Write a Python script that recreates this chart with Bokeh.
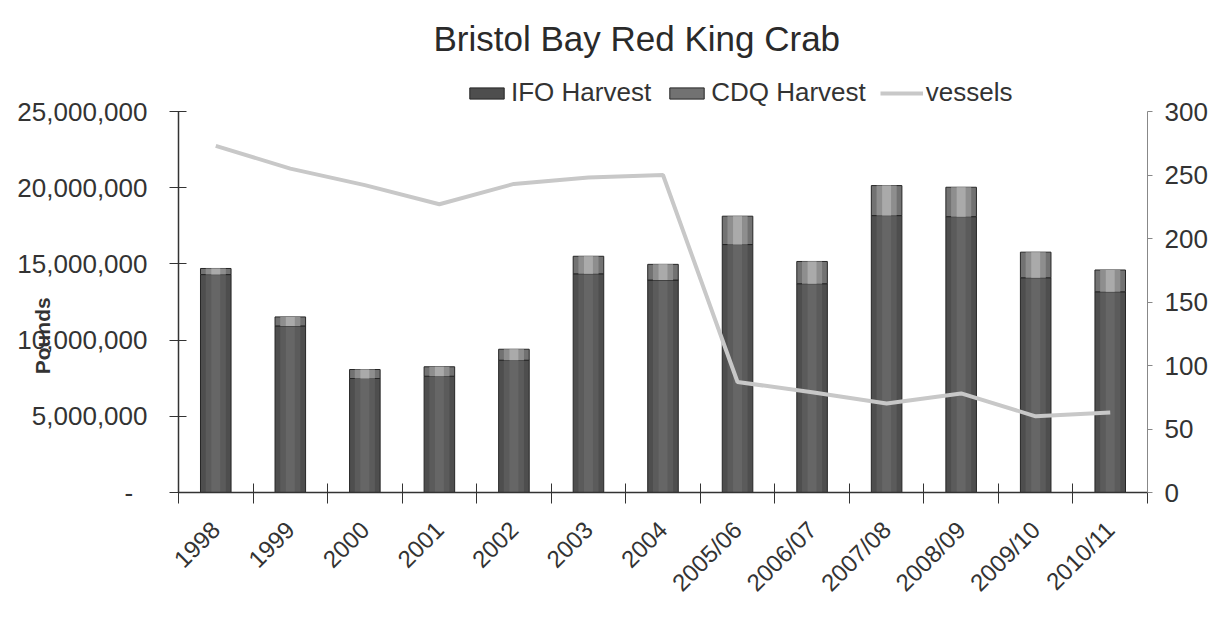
from bokeh.plotting import figure
from bokeh.models import (ColumnDataSource, LinearAxis, Range1d, FixedTicker,
                          NumeralTickFormatter, Legend, LegendItem)
from bokeh.embed import file_html
from bokeh.resources import INLINE
import math

# ---------------- data ----------------
years = ["1998", "1999", "2000", "2001", "2002", "2003", "2004",
         "2005/06", "2006/07", "2007/08", "2008/09", "2009/10", "2010/11"]
ifo_harvest = [14300000, 10930000, 7480000, 7630000, 8680000, 14350000, 13940000,
               16270000, 13700000, 18170000, 18100000, 14090000, 13170000]
cdq_harvest = [400000, 590000, 590000, 620000, 720000, 1150000, 1030000,
               1860000, 1460000, 1970000, 1930000, 1680000, 1430000]
vessels = [273, 255, 242, 227, 243, 248, 250, 87, 79, 70, 78, 60, 63]
pound_ticks = [0, 5000000, 10000000, 15000000, 20000000, 25000000]
vessel_ticks = [0, 50, 100, 150, 200, 250, 300]
POUND_MAX = 25000000
VESSEL_MAX = 300

xs = list(range(len(years)))
total = [a + b for a, b in zip(ifo_harvest, cdq_harvest)]
src = ColumnDataSource(dict(x=xs, ifo=ifo_harvest, cdq=cdq_harvest,
                            total=total, vessels=vessels))

FONT = "Liberation Sans"

# layout (pixels): frame top / axis top / frame bottom
FRAME_TOP, AXIS_TOP, FRAME_BOTTOM = 62, 111, 492
H = 609
stretch = (FRAME_BOTTOM - FRAME_TOP) / (FRAME_BOTTOM - AXIS_TOP)

p = figure(width=1210, height=H, output_backend="svg", toolbar_location=None,
           x_range=Range1d(-0.5, len(years) - 0.5),
           y_range=Range1d(0, POUND_MAX * stretch),
           min_border_left=178, min_border_right=60, min_border_top=FRAME_TOP,
           min_border_bottom=H - FRAME_BOTTOM)
p.outline_line_color = None
p.xgrid.grid_line_color = None
p.ygrid.grid_line_color = None
p.background_fill_color = "white"
p.border_fill_color = "white"

p.title.text = "Bristol Bay Red King Crab"
p.title.text_font = FONT
p.title.text_font_size = "35px"
p.title.text_font_style = "normal"
p.title.text_color = "#2a2a2a"
p.title.align = "left"
p.title.offset = 255

p.extra_y_ranges = {"vessels": Range1d(0, VESSEL_MAX * stretch)}

# IFO bars (layered for shading)
ifo_r = p.vbar(x="x", top="ifo", bottom=0, width=0.41, source=src,
               fill_color="#4e4e4e", line_color="#262626", line_width=1)
p.vbar(x="x", top="ifo", bottom=0, width=0.27, source=src,
       fill_color="#5b5b5b", line_color=None)
p.vbar(x="x", top="ifo", bottom=0, width=0.12, source=src,
       fill_color="#666666", line_color=None)
# CDQ bars
cdq_r = p.vbar(x="x", top="total", bottom="ifo", width=0.41, source=src,
               fill_color="#727272", line_color="#262626", line_width=1)
p.vbar(x="x", top="total", bottom="ifo", width=0.27, source=src,
       fill_color="#8e8e8e", line_color=None)
p.vbar(x="x", top="total", bottom="ifo", width=0.12, source=src,
       fill_color="#aaaaaa", line_color=None)

ves_r = p.line(x="x", y="vessels", source=src, y_range_name="vessels",
               line_color="#c8c8c8", line_width=4)

# x axis
xa = p.xaxis[0]
xa.ticker = FixedTicker(ticks=xs, minor_ticks=[i - 0.5 for i in range(len(years) + 1)])
xa.major_label_overrides = {i: y for i, y in enumerate(years)}
xa.major_label_orientation = math.pi / 4
xa.major_tick_line_color = None
xa.major_tick_out = 0
xa.major_tick_in = 0
xa.minor_tick_line_color = "#333333"
xa.minor_tick_out = 11
xa.minor_tick_in = 9
xa.axis_line_color = "#333333"
xa.axis_line_width = 1.5
xa.major_label_text_font = FONT
xa.major_label_text_font_size = "24px"
xa.major_label_text_color = "#333333"
xa.major_label_standoff = 22

# left axis
ya = p.yaxis[0]
ya.bounds = (0, POUND_MAX)
ya.ticker = FixedTicker(ticks=pound_ticks, minor_ticks=[])
ya.formatter = NumeralTickFormatter(format="0,0")
ya.major_label_overrides = {0: "-\u00a0\u00a0"}
ya.major_tick_in = 8
ya.major_tick_out = 9
ya.major_tick_line_color = "#333333"
ya.axis_line_color = "#333333"
ya.axis_line_width = 1.5
ya.major_label_text_font = FONT
ya.major_label_text_font_size = "26px"
ya.major_label_text_color = "#333333"
ya.major_label_standoff = 22
ya.axis_label = "Pounds" + "\u00a0" * 20
ya.axis_label_text_font = FONT
ya.axis_label_text_font_size = "21px"
ya.axis_label_text_font_style = "bold"
ya.axis_label_text_color = "#333333"
ya.axis_label_standoff = -40

# right axis
ra = LinearAxis(y_range_name="vessels", bounds=(0, VESSEL_MAX),
                ticker=FixedTicker(ticks=vessel_ticks, minor_ticks=[]))
ra.major_tick_in = 0
ra.major_tick_out = 5
ra.major_tick_line_color = "#888888"
ra.axis_line_color = "#888888"
ra.major_label_text_font = FONT
ra.major_label_text_font_size = "26px"
ra.major_label_text_color = "#333333"
ra.major_label_standoff = 12
p.add_layout(ra, "right")

legend = Legend(items=[LegendItem(label="IFO Harvest", renderers=[ifo_r]),
                       LegendItem(label="CDQ Harvest", renderers=[cdq_r]),
                       LegendItem(label="vessels", renderers=[ves_r])],
                orientation="horizontal", location=(287, 384),
                glyph_width=43, glyph_height=14, label_standoff=3, spacing=14,
                padding=0, margin=0, border_line_color=None,
                background_fill_alpha=0,
                label_text_font=FONT, label_text_font_size="26px",
                label_text_color="#333333")
p.add_layout(legend, "center")

open("out.html", "w").write(file_html(p, INLINE))
